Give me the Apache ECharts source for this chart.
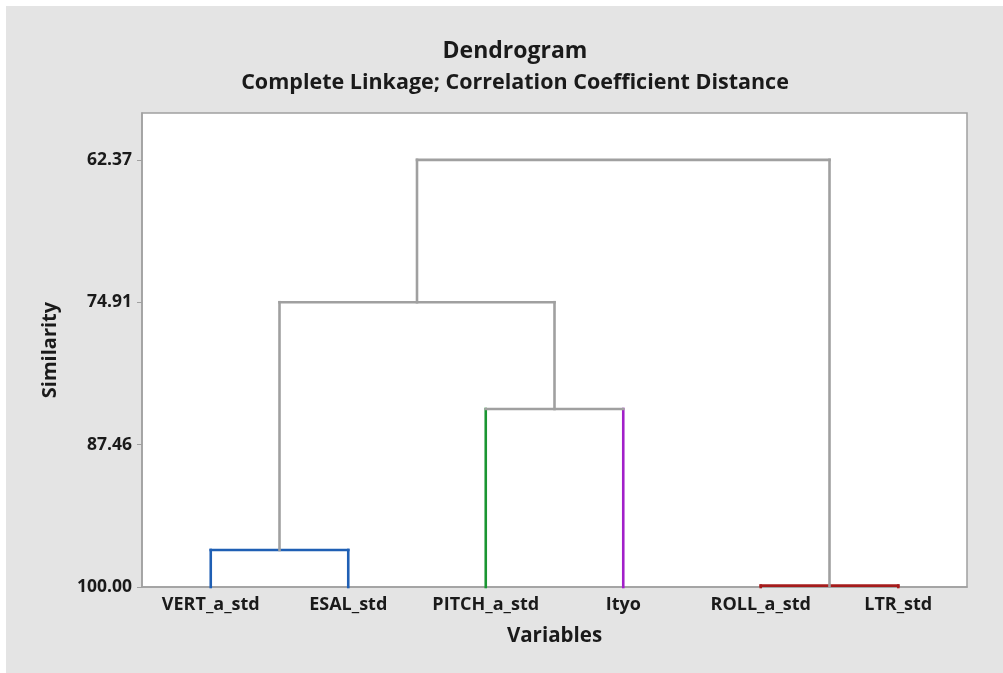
<!DOCTYPE html>
<html>
<head>
<meta charset="utf-8">
<script src="https://cdn.jsdelivr.net/npm/echarts@6/dist/echarts.min.js"></script>
<style>
  html, body { margin: 0; padding: 0; background: #ffffff; }
  #chart { width: 1003px; height: 673px; }
</style>
</head>
<body>
<div id="chart"></div>
<script>
// ---- data ----
const variables = ['VERT_a_std', 'ESAL_std', 'PITCH_a_std', 'Ityo', 'ROLL_a_std', 'LTR_std'];
// merges: [left node, right node, similarity]; nodes 0..5 are leaves, 6.. are merges in order
const mergeLeft  = [0, 4, 2, 6, 9];
const mergeRight = [1, 5, 3, 8, 7];
const mergeSimilarity = [96.74, 99.88, 84.32, 74.91, 62.37];
const yTickValues = [62.37, 74.91, 87.46, 100.00];
const leafSimilarity = 100;

// ---- styles ----
const GRAY = '#a0a0a0';
const leafColors = ['#1f5fb4', '#1f5fb4', '#1a9632', '#a21fc9', '#a51c1c', '#a51c1c'];
// horizontal bar colours for each merge (cluster coloring)
const mergeBarColors = ['#1f5fb4', '#a51c1c', GRAY, GRAY, GRAY];

// ---- layout of the tree (positions from indices) ----
const nodeX = variables.map((_, i) => i);
const nodeY = variables.map(() => leafSimilarity);
const nodeColor = leafColors.slice();
const segments = [];
mergeLeft.forEach((l, k) => {
  const r = mergeRight[k];
  const h = mergeSimilarity[k];
  segments.push([nodeX[l], nodeY[l], nodeX[l], h, nodeColor[l]]);
  segments.push([nodeX[r], nodeY[r], nodeX[r], h, nodeColor[r]]);
  segments.push([nodeX[l], h, nodeX[r], h, mergeBarColors[k]]);
  nodeX.push((nodeX[l] + nodeX[r]) / 2);
  nodeY.push(h);
  nodeColor.push(GRAY);
});

const FONT = '"Open Sans", "Noto Sans", sans-serif';
const TXT = '#1a1a1a';

const chart = echarts.init(document.getElementById('chart'));
chart.setOption({
  animation: false,
  backgroundColor: '#ffffff',
  graphic: [{
    type: 'rect', left: 6, top: 6, z: -10,
    shape: { width: 997, height: 667 },
    style: { fill: '#e4e4e4' }, silent: true
  }],
  title: [{
    text: 'Dendrogram',
    left: 510, top: 35, textAlign: 'center',
    textStyle: { fontFamily: FONT, fontSize: 23, fontWeight: 'bold', color: TXT }
  }, {
    text: 'Complete Linkage; Correlation Coefficient Distance',
    left: 510, top: 67, textAlign: 'center',
    textStyle: { fontFamily: FONT, fontSize: 21.5, fontWeight: 'bold', color: TXT }
  }],
  grid: {
    left: 142, right: 36, top: 113, bottom: 86,
    show: true, backgroundColor: '#ffffff', borderColor: GRAY, borderWidth: 1.5
  },
  xAxis: [{
    type: 'category',
    data: variables,
    boundaryGap: true,
    name: 'Variables',
    nameLocation: 'middle',
    nameGap: 39,
    nameTextStyle: { fontFamily: FONT, fontSize: 20.5, fontWeight: 'bold', color: TXT },
    axisLine: { lineStyle: { color: GRAY, width: 1.5 } },
    axisTick: { alignWithLabel: true, length: 5, lineStyle: { color: GRAY } },
    axisLabel: { fontFamily: FONT, fontSize: 18, fontWeight: 'bold', color: TXT, margin: 9, interval: 0 },
    splitLine: { show: false }
  }, {
    type: 'value', min: -0.5, max: variables.length - 0.5, show: false
  }],
  yAxis: {
    type: 'value',
    inverse: true,
    min: 58.24, max: 100,
    name: 'Similarity',
    nameLocation: 'middle',
    nameGap: 82,
    nameTextStyle: { fontFamily: FONT, fontSize: 20, fontWeight: 'bold', color: TXT },
    axisLine: { show: true, onZero: false, lineStyle: { color: GRAY, width: 1.5 } },
    axisTick: { show: true, length: 5, customValues: yTickValues, lineStyle: { color: GRAY } },
    axisLabel: {
      customValues: yTickValues,
      formatter: v => Number(v).toFixed(2),
      fontFamily: FONT, fontSize: 17.5, fontWeight: 'bold', color: TXT, margin: 10
    },
    splitLine: { show: false }
  },
  series: [{
    type: 'custom',
    xAxisIndex: 1,
    yAxisIndex: 0,
    z: 10,
    data: segments,
    encode: { x: [0, 2], y: [1, 3] },
    renderItem: function (params, api) {
      const p1 = api.coord([api.value(0), api.value(1)]);
      const p2 = api.coord([api.value(2), api.value(3)]);
      const seg = segments[params.dataIndex];
      return {
        type: 'line',
        shape: { x1: p1[0], y1: p1[1], x2: p2[0], y2: p2[1] },
        style: { stroke: seg[4], lineWidth: 2.6, lineCap: 'square' }
      };
    }
  }]
});
</script>
</body>
</html>
